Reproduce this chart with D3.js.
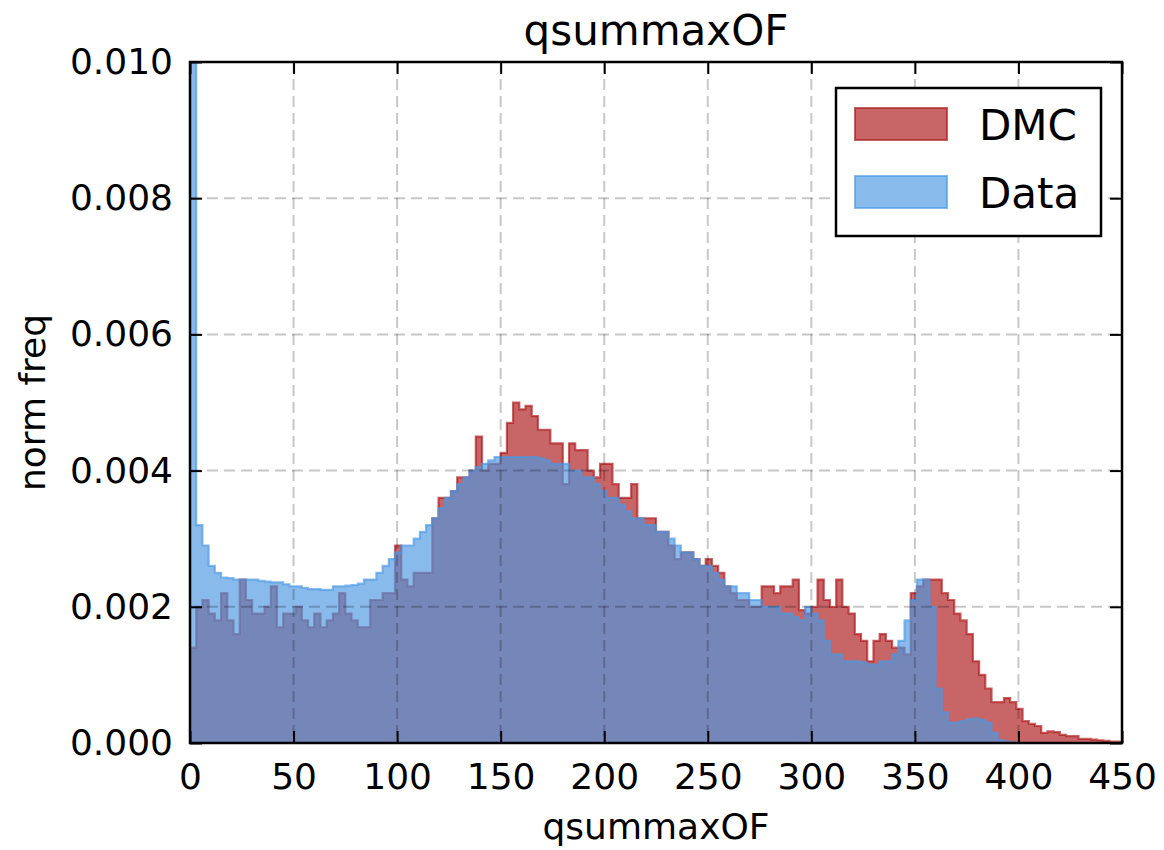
<!DOCTYPE html>
<html>
<head>
<meta charset="utf-8">
<script src="https://cdn.jsdelivr.net/npm/d3@7"></script>
<style>
  body { margin: 0; background: #fff; }
  svg { display: block; font-family: "DejaVu Sans", sans-serif; }
</style>
</head>
<body>
<svg id="chart"></svg>
<script>
// histogram of qsummaxOF, 150 bins of width 3 from 0 to 450
const binWidth = 3;
const xTicks = [0, 50, 100, 150, 200, 250, 300, 350, 400, 450];
const yTicks = [0, 0.002, 0.004, 0.006, 0.008, 0.010];
const seriesNames = ["DMC", "Data"];

// DMC (simulation) normalised frequency per bin
const dmcFreq = [
  0.0014, 0.0020, 0.0021, 0.0019, 0.0018, 0.0022, 0.0018, 0.0016, 0.0024, 0.0021,
  0.0019, 0.0019, 0.0020, 0.0023, 0.0017, 0.0019, 0.0019, 0.0020, 0.0018, 0.0017,
  0.0019, 0.0017, 0.0018, 0.0019, 0.0022, 0.0019, 0.0018, 0.0017, 0.0017, 0.0021,
  0.0021, 0.0022, 0.0022, 0.0029, 0.0024, 0.0023, 0.0025, 0.0025, 0.0025, 0.0033,
  0.0036, 0.0036, 0.0037, 0.0039, 0.0039, 0.0040, 0.0045, 0.0040, 0.0041, 0.0041,
  0.00426, 0.0047, 0.0050, 0.0049, 0.00495, 0.0048, 0.0046, 0.0046, 0.0044, 0.0044,
  0.0038, 0.0044, 0.0043, 0.0043, 0.0040, 0.0039, 0.0041, 0.0041, 0.0038, 0.0036,
  0.0036, 0.0038, 0.0033, 0.0033, 0.0033, 0.0031, 0.0031, 0.0029, 0.0027, 0.0028,
  0.0028, 0.0027, 0.0026, 0.0027, 0.0026, 0.0025, 0.0023, 0.0022, 0.0021, 0.0021,
  0.0020, 0.0020, 0.0023, 0.0023, 0.0022, 0.0023, 0.0023, 0.0024, 0.00195, 0.0019,
  0.0020, 0.0024, 0.0021, 0.0020, 0.0024, 0.0020, 0.0019, 0.0016, 0.0015, 0.0012,
  0.0015, 0.0016, 0.0015, 0.0014, 0.0014, 0.0013, 0.0022, 0.0023, 0.0024, 0.0024,
  0.0024, 0.0022, 0.0021, 0.0019, 0.0018, 0.0016, 0.0012, 0.0010, 0.0008, 0.0006,
  0.0006, 0.00066, 0.0006, 0.0005, 0.00032, 0.00028, 0.00025, 0.00015, 0.00017, 0.00016,
  0.00012, 0.0001, 0.0001, 0.00006, 0.00006, 0.00005, 0.00004, 0.00003, 0.00002, 0.00002
];

// Data normalised frequency per bin (first bin goes off the top)
const dataFreq = [
  0.0120, 0.0032, 0.0029, 0.0026, 0.0025, 0.00243, 0.00242, 0.0024, 0.0024, 0.0024,
  0.0024, 0.00238, 0.00237, 0.00236, 0.00236, 0.00233, 0.0023, 0.0023, 0.00228, 0.00226,
  0.00226, 0.00225, 0.00225, 0.0023, 0.0023, 0.00231, 0.00232, 0.00234, 0.0024, 0.0024,
  0.0025, 0.0026, 0.0027, 0.0028, 0.0029, 0.0029, 0.0030, 0.0031, 0.0032, 0.0033,
  0.00345, 0.0036, 0.0037, 0.0038, 0.0039, 0.0040, 0.00405, 0.0041, 0.00415, 0.0042,
  0.0042, 0.0042, 0.0042, 0.0042, 0.0042, 0.0042, 0.00418, 0.00415, 0.0041, 0.0041,
  0.0041, 0.0040, 0.0040, 0.0039, 0.0039, 0.0038, 0.0037, 0.0036, 0.0036, 0.0035,
  0.0034, 0.0033, 0.0033, 0.0032, 0.0032, 0.0031, 0.0031, 0.0030, 0.0029, 0.0028,
  0.0028, 0.0027, 0.0026, 0.0026, 0.0025, 0.0024, 0.0023, 0.0023, 0.0022, 0.0022,
  0.0021, 0.0021, 0.0020, 0.0020, 0.0020, 0.0019, 0.0019, 0.00185, 0.0018, 0.0020,
  0.0019, 0.0018, 0.0015, 0.0013, 0.0013, 0.0012, 0.0012, 0.0012, 0.00118, 0.00115,
  0.00115, 0.0012, 0.0012, 0.0013, 0.0015, 0.0018, 0.0021, 0.0024, 0.0024, 0.0020,
  0.0008, 0.00045, 0.0003, 0.0003, 0.00032, 0.00035, 0.00036, 0.00034, 0.0003, 0.00015,
  0.00004, 0.00002, 0.00001, 0, 0, 0, 0, 0, 0, 0,
  0, 0, 0, 0, 0, 0, 0, 0, 0, 0
];

const width = 1164;
const height = 850;
const margin = { top: 62, right: 42, bottom: 107, left: 190 };
const innerW = width - margin.left - margin.right;
const innerH = height - margin.top - margin.bottom;

const svg = d3.select("#chart").attr("width", width).attr("height", height);

const x = d3.scaleLinear().domain([0, 450]).range([0, innerW]);
const y = d3.scaleLinear().domain([0, 0.010]).range([innerH, 0]);

const colors = {
  DMC: "rgb(172,22,24)",
  Data: "rgb(74,152,226)"
};
const alpha = 0.66;

const g = svg.append("g").attr("transform", `translate(${margin.left},${margin.top})`);

g.append("clipPath")
  .attr("id", "plotclip")
  .append("rect")
  .attr("width", innerW)
  .attr("height", innerH);

// turn bin values into a closed step polygon
function stepPoints(freq) {
  const pts = [[0, 0]];
  freq.forEach(function(v, i) {
    pts.push([i * binWidth, v]);
    pts.push([(i + 1) * binWidth, v]);
  });
  pts.push([freq.length * binWidth, 0]);
  return pts;
}

const line = d3
  .line()
  .x(function(d) { return x(d[0]); })
  .y(function(d) { return y(d[1]); });

const plot = g.append("g").attr("clip-path", "url(#plotclip)");

[["DMC", dmcFreq], ["Data", dataFreq]].forEach(function(s) {
  plot
    .append("path")
    .attr("d", line(stepPoints(s[1])) + "Z")
    .attr("fill", colors[s[0]])
    .attr("fill-opacity", alpha)
    .attr("stroke", colors[s[0]])
    .attr("stroke-opacity", alpha)
    .attr("stroke-width", 2.2)
    .attr("stroke-linejoin", "miter");
});

// dashed grid drawn over the bars
const grid = g.append("g");
grid
  .selectAll("line.vx")
  .data(xTicks.slice(1, -1))
  .enter()
  .append("line")
  .attr("x1", function(d) { return x(d); })
  .attr("x2", function(d) { return x(d); })
  .attr("y1", 0)
  .attr("y2", innerH);
grid
  .selectAll("line.hy")
  .data(yTicks.slice(1, -1))
  .enter()
  .append("line")
  .attr("x1", 0)
  .attr("x2", innerW)
  .attr("y1", function(d) { return y(d); })
  .attr("y2", function(d) { return y(d); });
grid
  .selectAll("line")
  .attr("stroke", "rgba(0,0,0,0.22)")
  .attr("stroke-width", 2)
  .attr("stroke-dasharray", "11,6");

// axes with inward ticks on all four sides
const tickLen = 12;
const fmtX = d3.format("d");
const fmtY = d3.format(".3f");

function styleAxis(sel) {
  sel.select(".domain").remove();
  sel.selectAll(".tick line").attr("stroke", "#000").attr("stroke-width", 2);
  sel.selectAll(".tick text")
    .attr("fill", "#000")
    .style("font-size", "36px")
    .style("font-family", "DejaVu Sans, sans-serif");
}

g.append("g")
  .attr("transform", `translate(0,${innerH})`)
  .call(d3.axisBottom(x).tickValues(xTicks).tickFormat(fmtX).tickSizeInner(-tickLen).tickSizeOuter(0).tickPadding(tickLen + 8))
  .call(styleAxis);
g.append("g")
  .call(d3.axisTop(x).tickValues(xTicks).tickFormat("").tickSizeInner(-tickLen).tickSizeOuter(0))
  .call(styleAxis);
g.append("g")
  .call(d3.axisLeft(y).tickValues(yTicks).tickFormat(fmtY).tickSizeInner(-tickLen).tickSizeOuter(0).tickPadding(tickLen + 5))
  .call(styleAxis);
g.append("g")
  .attr("transform", `translate(${innerW},0)`)
  .call(d3.axisRight(y).tickValues(yTicks).tickFormat("").tickSizeInner(-tickLen).tickSizeOuter(0))
  .call(styleAxis);

// frame
g.append("rect")
  .attr("width", innerW)
  .attr("height", innerH)
  .attr("fill", "none")
  .attr("stroke", "#000")
  .attr("stroke-width", 2.5);

// title and axis labels
svg.append("text")
  .attr("x", margin.left + innerW / 2)
  .attr("y", 45)
  .attr("text-anchor", "middle")
  .style("font-size", "42px")
  .text("qsummaxOF");

svg.append("text")
  .attr("x", margin.left + innerW / 2)
  .attr("y", 839)
  .attr("text-anchor", "middle")
  .style("font-size", "36px")
  .text("qsummaxOF");

svg.append("text")
  .attr("transform", `translate(45,${margin.top + innerH / 2}) rotate(-90)`)
  .attr("text-anchor", "middle")
  .style("font-size", "36px")
  .text("norm freq");

// legend
const legend = svg.append("g").attr("transform", "translate(836,88)");
legend.append("rect")
  .attr("width", 265)
  .attr("height", 148)
  .attr("fill", "#fff")
  .attr("stroke", "#000")
  .attr("stroke-width", 2.5);

const entries = legend
  .selectAll("g.entry")
  .data(seriesNames)
  .enter()
  .append("g")
  .attr("transform", function(d, i) { return `translate(0,${20 + i * 68})`; });

entries.append("rect")
  .attr("x", 19)
  .attr("width", 92)
  .attr("height", 32)
  .attr("fill", function(d) { return colors[d]; })
  .attr("fill-opacity", alpha)
  .attr("stroke", function(d) { return colors[d]; })
  .attr("stroke-opacity", alpha)
  .attr("stroke-width", 2);

entries.append("text")
  .attr("x", 143)
  .attr("y", 32)
  .style("font-size", "42px")
  .text(function(d) { return d; });
</script>
</body>
</html>
